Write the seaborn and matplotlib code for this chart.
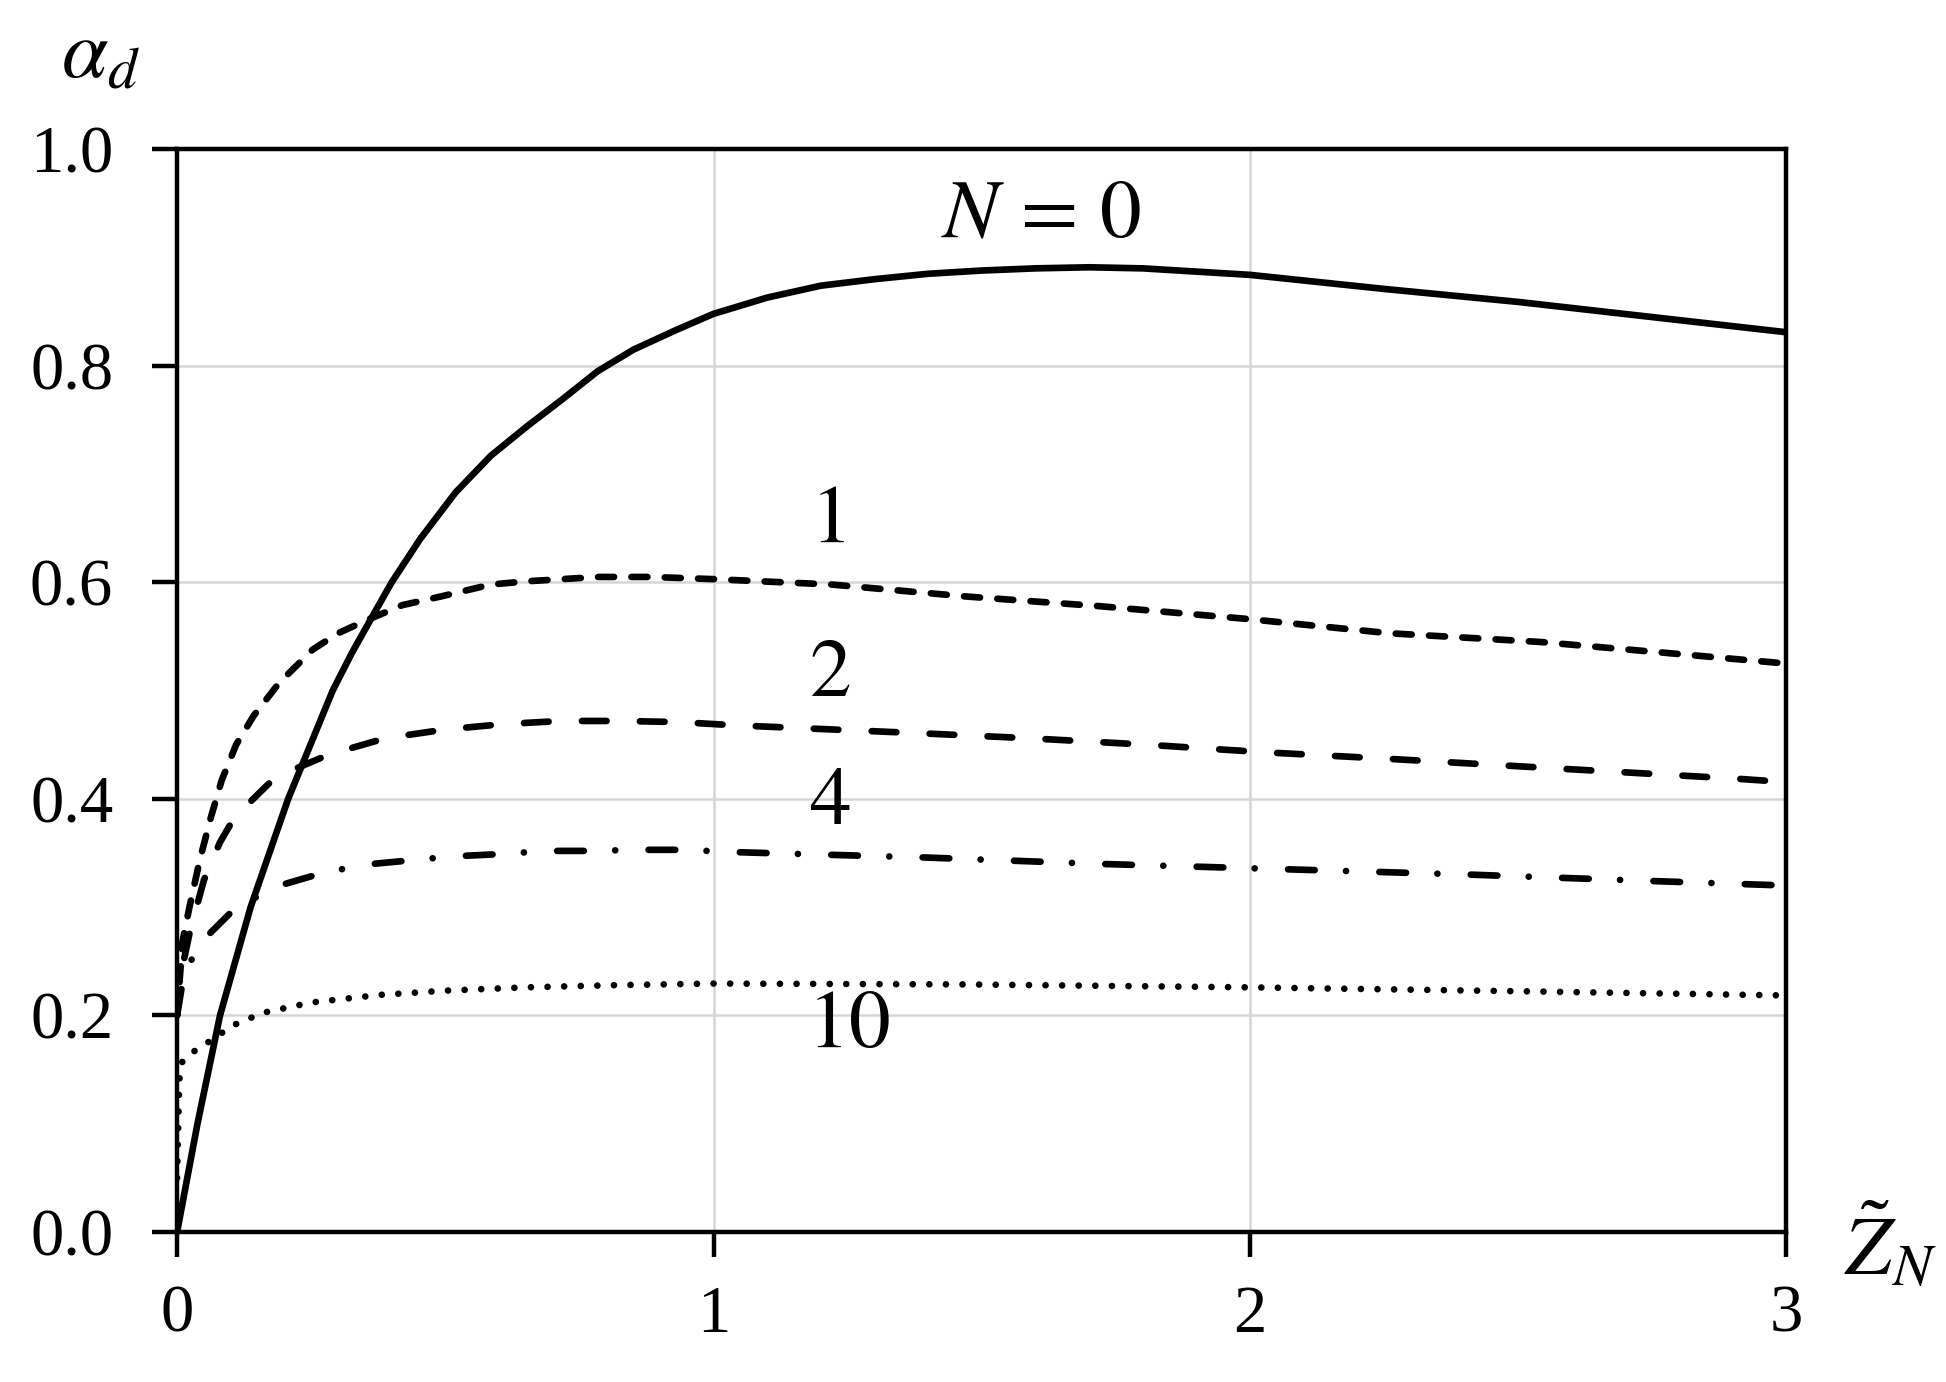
import matplotlib
matplotlib.use("Agg")
import matplotlib.pyplot as plt
import numpy as np
import pandas as pd
import seaborn as sns

# curves, alpha_d against Z_N
x_n0 = [0, 0.038, 0.08, 0.137, 0.207, 0.29, 0.326, 0.36, 0.4, 0.453, 0.519, 0.585,
        0.652, 0.718, 0.784, 0.851, 0.93, 1.0, 1.1, 1.2, 1.3, 1.4, 1.5, 1.6, 1.7, 1.8,
        2.0, 2.25, 2.5, 2.75, 3.0]
y_n0 = [0, 0.1, 0.2, 0.3, 0.4, 0.5, 0.535, 0.565, 0.6, 0.64, 0.683, 0.717,
        0.744, 0.769, 0.795, 0.815, 0.833, 0.848, 0.863, 0.874, 0.88, 0.885, 0.888, 0.89,
        0.891, 0.89, 0.884, 0.871, 0.859, 0.845, 0.831]

x_n1 = [0, 0.01, 0.023, 0.043, 0.063, 0.083, 0.11, 0.143, 0.19, 0.253, 0.3, 0.353,
        0.42, 0.492, 0.585, 0.652, 0.718, 0.784, 0.884, 1.0, 1.22, 1.47, 1.72, 2.0,
        2.26, 2.54, 2.75, 3.0]
y_n1 = [0.2, 0.268, 0.3, 0.345, 0.383, 0.417, 0.45, 0.477, 0.507, 0.538, 0.553, 0.565,
        0.579, 0.587, 0.598, 0.601, 0.603, 0.605, 0.605, 0.603, 0.598, 0.587, 0.578, 0.566,
        0.553, 0.545, 0.536, 0.525]

x_n2 = [0, 0.01, 0.025, 0.05, 0.08, 0.107, 0.183, 0.283, 0.388, 0.498, 0.605, 0.715,
        0.825, 0.935, 1.04, 1.37, 1.59, 1.81, 2.03, 2.26, 2.577, 2.91, 3.0]
y_n2 = [0.2, 0.245, 0.28, 0.325, 0.36, 0.383, 0.42, 0.441, 0.456, 0.464, 0.469, 0.472,
        0.472, 0.471, 0.468, 0.461, 0.456, 0.45, 0.443, 0.437, 0.428, 0.4186, 0.4155]

x_n4 = [0, 0.01, 0.037, 0.102, 0.177, 0.26, 0.343, 0.429, 0.515, 0.6, 0.69, 0.773,
        0.86, 0.947, 1.03, 1.39, 1.72, 2.07, 2.416, 2.76, 3.0]
y_n4 = [0.2, 0.23, 0.264, 0.296, 0.318, 0.33, 0.339, 0.343, 0.347, 0.349, 0.352, 0.352,
        0.353, 0.353, 0.351, 0.346, 0.34, 0.335, 0.33, 0.324, 0.32]

x_n10 = [0, 0.004, 0.01, 0.037, 0.07, 0.1, 0.16, 0.25, 0.377, 0.503, 0.65, 0.817,
         1.0, 1.47, 2.0, 2.515, 3.0]
y_n10 = [0.05, 0.14, 0.158, 0.169, 0.179, 0.19, 0.2025, 0.212, 0.219, 0.223, 0.226, 0.228,
         0.2295, 0.2287, 0.226, 0.2223, 0.2185]

curve_labels = ["$N\\,=\\,0$", "$1$", "$2$", "$4$", "$10$"]
label_x = [1.61, 1.213, 1.217, 1.217, 1.251]
label_y = [0.938, 0.656, 0.513, 0.395, 0.189]

x_ticks = [0, 1, 2, 3]
y_ticks = [0.0, 0.2, 0.4, 0.6, 0.8, 1.0]

sns.set_style("whitegrid")
plt.rcParams.update(
    {
        "font.family": ["Liberation Serif", "DejaVu Serif"],
        "mathtext.fontset": "stix",
        "axes.edgecolor": "black",
        "text.color": "black",
        "xtick.color": "black",
        "ytick.color": "black",
        "grid.color": "#d6d6d6",
        "grid.linewidth": 0.9,
    }
)

fig = plt.figure(figsize=(9.73, 6.91), dpi=200)
ax = fig.add_axes([0.091, 0.1085, 0.827, 0.7835])

lw = 2.4
styles = [
    "-",
    (0, (2.4, 2.6)),
    (0, (3.7, 5.0)),
    (0, (4.0, 4.7, 0.01, 5.0)),
    (0, (0.01, 2.48)),
]
series = [(x_n0, y_n0), (x_n1, y_n1), (x_n2, y_n2), (x_n4, y_n4), (x_n10, y_n10)]

for (xs, ys), ls in zip(series, styles):
    df = pd.DataFrame({"z": xs, "a": ys})
    sns.lineplot(
        data=df, x="z", y="a", ax=ax, color="black", linewidth=lw,
        linestyle=ls, estimator=None, sort=False,
        dash_capstyle="round", solid_capstyle="round", solid_joinstyle="round",
    )

for txt, tx, ty in zip(curve_labels, label_x, label_y):
    ax.text(tx, ty, txt, fontsize=30, ha="center", va="center")

ax.set_xlim(0, 3)
ax.set_ylim(0, 1.0)
ax.set_xticks(x_ticks)
ax.set_yticks(y_ticks)
ax.set_xticklabels([str(t) for t in x_ticks])
ax.set_yticklabels([f"{t:.1f}" for t in y_ticks])
ax.set_xlabel("")
ax.set_ylabel("")

for sp in ax.spines.values():
    sp.set_visible(True)
    sp.set_color("black")
    sp.set_linewidth(1.6)

ax.tick_params(axis="both", which="major", direction="out", length=9, width=1.6,
               color="black", labelcolor="black", labelsize=24, left=True, bottom=True)
ax.tick_params(axis="x", pad=10)
ax.tick_params(axis="y", pad=14)

fig.text(100 / 1946, 1 - 58 / 1382, r"$\alpha_d$", fontsize=30, ha="center", va="center")
fig.text(1890 / 1946, 1 - 1248 / 1382, r"$\tilde{Z}_N$", fontsize=30, ha="center", va="center")

fig.savefig("out.png", dpi=200)
plt.close(fig)
